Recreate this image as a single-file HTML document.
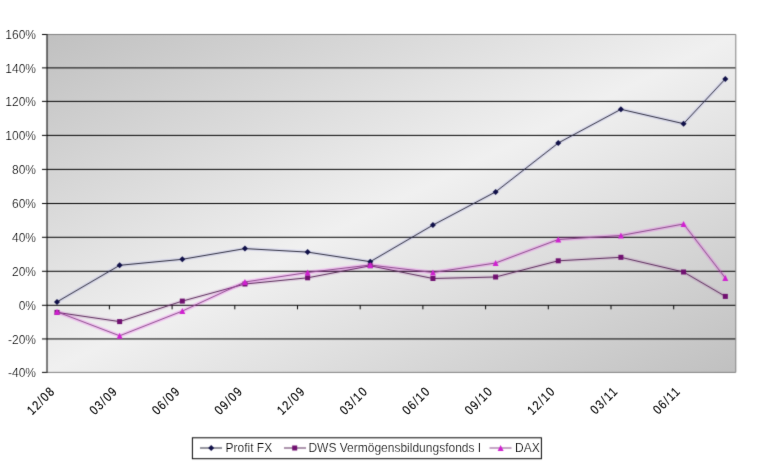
<!DOCTYPE html><html><head><meta charset="utf-8"><style>
html,body{margin:0;padding:0;background:#fff;width:760px;height:467px;overflow:hidden}
svg{display:block;will-change:transform}
text{font-family:"Liberation Sans",sans-serif;fill:#000;stroke:#fff;stroke-width:0.2px}
text.xl{stroke:#000;stroke-width:0.15px}
</style></head><body>
<svg width="760" height="467" viewBox="0 0 760 467">
<defs><linearGradient id="g" x1="0" y1="0" x2="1" y2="1" gradientUnits="objectBoundingBox"><stop offset="0" stop-color="#c0c0c0"/><stop offset="0.5" stop-color="#f0f0f0"/><stop offset="1" stop-color="#c0c0c0"/></linearGradient><filter id="bl" color-interpolation-filters="sRGB" filterUnits="userSpaceOnUse" x="0" y="0" width="760" height="467"><feConvolveMatrix order="3" kernelMatrix="1 6 1 6 36 6 1 6 1" edgeMode="duplicate"/></filter><filter id="tb" color-interpolation-filters="sRGB" filterUnits="userSpaceOnUse" x="0" y="0" width="760" height="467"><feConvolveMatrix order="3" kernelMatrix="0 1 0 1 16 1 0 1 0" edgeMode="duplicate"/></filter></defs>
<g filter="url(#bl)"><rect x="0" y="0" width="760" height="467" fill="#fff"/>
<rect x="46.7" y="34.5" width="689.0999999999999" height="337.9" fill="url(#g)"/>
<line x1="46.7" y1="67.9" x2="735.8" y2="67.9" stroke="#000" stroke-width="1"/>
<line x1="46.7" y1="101.4" x2="735.8" y2="101.4" stroke="#000" stroke-width="1"/>
<line x1="46.7" y1="135.4" x2="735.8" y2="135.4" stroke="#000" stroke-width="1"/>
<line x1="46.7" y1="169.4" x2="735.8" y2="169.4" stroke="#000" stroke-width="1"/>
<line x1="46.7" y1="203.5" x2="735.8" y2="203.5" stroke="#000" stroke-width="1"/>
<line x1="46.7" y1="237.3" x2="735.8" y2="237.3" stroke="#000" stroke-width="1"/>
<line x1="46.7" y1="271.3" x2="735.8" y2="271.3" stroke="#000" stroke-width="1"/>
<line x1="46.7" y1="305.3" x2="735.8" y2="305.3" stroke="#000" stroke-width="1"/>
<line x1="46.7" y1="338.95" x2="735.8" y2="338.95" stroke="#000" stroke-width="1"/>
<line x1="46.7" y1="34.5" x2="735.8" y2="34.5" stroke="#808080" stroke-width="1"/>
<line x1="735.8" y1="34.5" x2="735.8" y2="372.4" stroke="#808080" stroke-width="1"/>
<line x1="46.7" y1="372.4" x2="735.8" y2="372.4" stroke="#808080" stroke-width="1"/>
<line x1="47.0" y1="34.0" x2="47.0" y2="372.9" stroke="#000" stroke-width="1"/>
<line x1="42" y1="34.5" x2="46.7" y2="34.5" stroke="#000" stroke-width="1"/>
<line x1="42" y1="67.9" x2="46.7" y2="67.9" stroke="#000" stroke-width="1"/>
<line x1="42" y1="101.4" x2="46.7" y2="101.4" stroke="#000" stroke-width="1"/>
<line x1="42" y1="135.4" x2="46.7" y2="135.4" stroke="#000" stroke-width="1"/>
<line x1="42" y1="169.4" x2="46.7" y2="169.4" stroke="#000" stroke-width="1"/>
<line x1="42" y1="203.5" x2="46.7" y2="203.5" stroke="#000" stroke-width="1"/>
<line x1="42" y1="237.3" x2="46.7" y2="237.3" stroke="#000" stroke-width="1"/>
<line x1="42" y1="271.3" x2="46.7" y2="271.3" stroke="#000" stroke-width="1"/>
<line x1="42" y1="305.3" x2="46.7" y2="305.3" stroke="#000" stroke-width="1"/>
<line x1="42" y1="338.95" x2="46.7" y2="338.95" stroke="#000" stroke-width="1"/>
<line x1="42" y1="372.4" x2="46.7" y2="372.4" stroke="#000" stroke-width="1"/>
<line x1="109.40" y1="305.3" x2="109.40" y2="309.3" stroke="#000" stroke-width="1"/>
<line x1="172.10" y1="305.3" x2="172.10" y2="309.3" stroke="#000" stroke-width="1"/>
<line x1="234.80" y1="305.3" x2="234.80" y2="309.3" stroke="#000" stroke-width="1"/>
<line x1="297.50" y1="305.3" x2="297.50" y2="309.3" stroke="#000" stroke-width="1"/>
<line x1="360.20" y1="305.3" x2="360.20" y2="309.3" stroke="#000" stroke-width="1"/>
<line x1="422.90" y1="305.3" x2="422.90" y2="309.3" stroke="#000" stroke-width="1"/>
<line x1="485.60" y1="305.3" x2="485.60" y2="309.3" stroke="#000" stroke-width="1"/>
<line x1="548.30" y1="305.3" x2="548.30" y2="309.3" stroke="#000" stroke-width="1"/>
<line x1="611.00" y1="305.3" x2="611.00" y2="309.3" stroke="#000" stroke-width="1"/>
<line x1="673.70" y1="305.3" x2="673.70" y2="309.3" stroke="#000" stroke-width="1"/>
<polyline points="56.99,301.9 119.65,265.3 182.31,259.3 244.96,248.6 307.62,252.1 370.28,261.7 432.94,225.1 495.60,191.9 558.25,143.0 620.91,109.3 683.57,123.7 725.34,78.9" fill="none" stroke="#4040ff" stroke-opacity="0.08" stroke-width="4" stroke-linejoin="round"/>
<polyline points="56.99,301.9 119.65,265.3 182.31,259.3 244.96,248.6 307.62,252.1 370.28,261.7 432.94,225.1 495.60,191.9 558.25,143.0 620.91,109.3 683.57,123.7 725.34,78.9" fill="none" stroke="#2a2a3c" stroke-width="1"/>
<path d="M56.99,298.90L59.99,301.90L56.99,304.90L53.99,301.90Z" fill="#101048"/>
<path d="M119.65,262.30L122.65,265.30L119.65,268.30L116.65,265.30Z" fill="#101048"/>
<path d="M182.31,256.30L185.31,259.30L182.31,262.30L179.31,259.30Z" fill="#101048"/>
<path d="M244.96,245.60L247.96,248.60L244.96,251.60L241.96,248.60Z" fill="#101048"/>
<path d="M307.62,249.10L310.62,252.10L307.62,255.10L304.62,252.10Z" fill="#101048"/>
<path d="M370.28,258.70L373.28,261.70L370.28,264.70L367.28,261.70Z" fill="#101048"/>
<path d="M432.94,222.10L435.94,225.10L432.94,228.10L429.94,225.10Z" fill="#101048"/>
<path d="M495.60,188.90L498.60,191.90L495.60,194.90L492.60,191.90Z" fill="#101048"/>
<path d="M558.25,140.00L561.25,143.00L558.25,146.00L555.25,143.00Z" fill="#101048"/>
<path d="M620.91,106.30L623.91,109.30L620.91,112.30L617.91,109.30Z" fill="#101048"/>
<path d="M683.57,120.70L686.57,123.70L683.57,126.70L680.57,123.70Z" fill="#101048"/>
<path d="M725.34,75.90L728.34,78.90L725.34,81.90L722.34,78.90Z" fill="#101048"/>
<polyline points="56.99,312.4 119.65,321.6 182.31,301.1 244.96,284.0 307.62,277.8 370.28,265.8 432.94,278.5 495.60,277.0 558.25,260.8 620.91,257.3 683.57,272.0 725.34,296.4" fill="none" stroke="#a020a0" stroke-opacity="0.1" stroke-width="4" stroke-linejoin="round"/>
<polyline points="56.99,312.4 119.65,321.6 182.31,301.1 244.96,284.0 307.62,277.8 370.28,265.8 432.94,278.5 495.60,277.0 558.25,260.8 620.91,257.3 683.57,272.0 725.34,296.4" fill="none" stroke="#5a2a5a" stroke-width="1"/>
<rect x="54.49" y="309.90" width="5.0" height="5.0" fill="#701070"/>
<rect x="117.15" y="319.10" width="5.0" height="5.0" fill="#701070"/>
<rect x="179.81" y="298.60" width="5.0" height="5.0" fill="#701070"/>
<rect x="242.46" y="281.50" width="5.0" height="5.0" fill="#701070"/>
<rect x="305.12" y="275.30" width="5.0" height="5.0" fill="#701070"/>
<rect x="367.78" y="263.30" width="5.0" height="5.0" fill="#701070"/>
<rect x="430.44" y="276.00" width="5.0" height="5.0" fill="#701070"/>
<rect x="493.10" y="274.50" width="5.0" height="5.0" fill="#701070"/>
<rect x="555.75" y="258.30" width="5.0" height="5.0" fill="#701070"/>
<rect x="618.41" y="254.80" width="5.0" height="5.0" fill="#701070"/>
<rect x="681.07" y="269.50" width="5.0" height="5.0" fill="#701070"/>
<rect x="722.84" y="293.90" width="5.0" height="5.0" fill="#701070"/>
<polyline points="56.99,311.8 119.65,335.8 182.31,311.1 244.96,282.0 307.62,272.5 370.28,265.0 432.94,272.5 495.60,263.0 558.25,239.5 620.91,235.5 683.57,224.0 725.34,278.0" fill="none" stroke="#ff00ff" stroke-opacity="0.16" stroke-width="4" stroke-linejoin="round"/>
<polyline points="56.99,311.8 119.65,335.8 182.31,311.1 244.96,282.0 307.62,272.5 370.28,265.0 432.94,272.5 495.60,263.0 558.25,239.5 620.91,235.5 683.57,224.0 725.34,278.0" fill="none" stroke="#8a4a8a" stroke-width="1"/>
<path d="M56.99,308.80L59.99,314.80L53.99,314.80Z" fill="#d020d0"/>
<path d="M119.65,332.80L122.65,338.80L116.65,338.80Z" fill="#d020d0"/>
<path d="M182.31,308.10L185.31,314.10L179.31,314.10Z" fill="#d020d0"/>
<path d="M244.96,279.00L247.96,285.00L241.96,285.00Z" fill="#d020d0"/>
<path d="M307.62,269.50L310.62,275.50L304.62,275.50Z" fill="#d020d0"/>
<path d="M370.28,262.00L373.28,268.00L367.28,268.00Z" fill="#d020d0"/>
<path d="M432.94,269.50L435.94,275.50L429.94,275.50Z" fill="#d020d0"/>
<path d="M495.60,260.00L498.60,266.00L492.60,266.00Z" fill="#d020d0"/>
<path d="M558.25,236.50L561.25,242.50L555.25,242.50Z" fill="#d020d0"/>
<path d="M620.91,232.50L623.91,238.50L617.91,238.50Z" fill="#d020d0"/>
<path d="M683.57,221.00L686.57,227.00L680.57,227.00Z" fill="#d020d0"/>
<path d="M725.34,275.00L728.34,281.00L722.34,281.00Z" fill="#d020d0"/>
<rect x="192.4" y="437.8" width="349" height="20.9" fill="#fff" stroke="#000" stroke-width="1"/>
<line x1="200" y1="448.0" x2="222" y2="448.0" stroke="#2a2a3c"/>
<path d="M211.20,445.00L214.20,448.00L211.20,451.00L208.20,448.00Z" fill="#101048"/>
<line x1="284" y1="448.0" x2="306" y2="448.0" stroke="#5a2a5a"/>
<rect x="292.20" y="445.50" width="5.0" height="5.0" fill="#701070"/>
<line x1="489.5" y1="448.0" x2="511.5" y2="448.0" stroke="#8a4a8a"/>
<path d="M500.60,445.00L503.60,451.00L497.60,451.00Z" fill="#d020d0"/>
</g>
<g filter="url(#tb)">
<text x="36" y="39.1" font-size="12" text-anchor="end">160%</text>
<text x="36" y="72.5" font-size="12" text-anchor="end">140%</text>
<text x="36" y="106.0" font-size="12" text-anchor="end">120%</text>
<text x="36" y="140.0" font-size="12" text-anchor="end">100%</text>
<text x="36" y="174.0" font-size="12" text-anchor="end">80%</text>
<text x="36" y="208.1" font-size="12" text-anchor="end">60%</text>
<text x="36" y="241.9" font-size="12" text-anchor="end">40%</text>
<text x="36" y="275.9" font-size="12" text-anchor="end">20%</text>
<text x="36" y="309.9" font-size="12" text-anchor="end">0%</text>
<text x="36" y="343.6" font-size="12" text-anchor="end">-20%</text>
<text x="36" y="377.0" font-size="12" text-anchor="end">-40%</text>
<text class="xl" font-size="13" letter-spacing="1.5" text-anchor="end" transform="translate(55.99,391.8) rotate(-45) scale(0.84,1)">12/08</text>
<text class="xl" font-size="13" letter-spacing="1.5" text-anchor="end" transform="translate(118.53,391.8) rotate(-45) scale(0.84,1)">03/09</text>
<text class="xl" font-size="13" letter-spacing="1.5" text-anchor="end" transform="translate(181.07,391.8) rotate(-45) scale(0.84,1)">06/09</text>
<text class="xl" font-size="13" letter-spacing="1.5" text-anchor="end" transform="translate(243.60,391.8) rotate(-45) scale(0.84,1)">09/09</text>
<text class="xl" font-size="13" letter-spacing="1.5" text-anchor="end" transform="translate(306.14,391.8) rotate(-45) scale(0.84,1)">12/09</text>
<text class="xl" font-size="13" letter-spacing="1.5" text-anchor="end" transform="translate(368.68,391.8) rotate(-45) scale(0.84,1)">03/10</text>
<text class="xl" font-size="13" letter-spacing="1.5" text-anchor="end" transform="translate(431.22,391.8) rotate(-45) scale(0.84,1)">06/10</text>
<text class="xl" font-size="13" letter-spacing="1.5" text-anchor="end" transform="translate(493.76,391.8) rotate(-45) scale(0.84,1)">09/10</text>
<text class="xl" font-size="13" letter-spacing="1.5" text-anchor="end" transform="translate(556.29,391.8) rotate(-45) scale(0.84,1)">12/10</text>
<text class="xl" font-size="13" letter-spacing="1.5" text-anchor="end" transform="translate(618.83,391.8) rotate(-45) scale(0.84,1)">03/11</text>
<text class="xl" font-size="13" letter-spacing="1.5" text-anchor="end" transform="translate(681.37,391.8) rotate(-45) scale(0.84,1)">06/11</text>
<text x="225.5" y="451.8" font-size="12">Profit FX</text>
<text x="308.4" y="451.8" font-size="12">DWS Vermögensbildungsfonds I</text>
<text x="515" y="451.8" font-size="12">DAX</text>
</g>
</svg></body></html>
